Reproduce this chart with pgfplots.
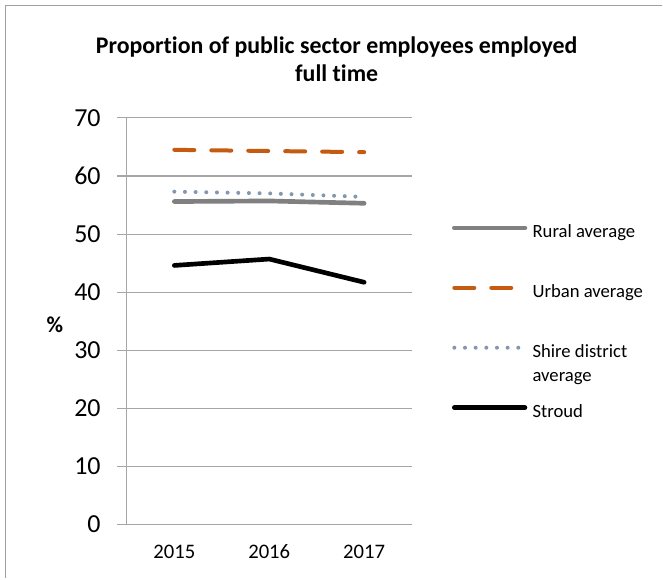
\documentclass[border=0pt]{standalone}
\usepackage{pgfplots}
\pgfplotsset{compat=1.18}
\usepackage{fontspec}
\setmainfont[Ligatures={NoCommon}]{Carlito}
\definecolor{gridgray}{RGB}{166,166,166}
\definecolor{framegray}{RGB}{160,160,160}
\definecolor{urbanorange}{RGB}{197,90,17}
\definecolor{ruralgray}{RGB}{128,128,128}
\definecolor{shireblue}{RGB}{132,151,176}
\begin{document}
\begin{tikzpicture}[x=0.75pt,y=-0.75pt]
\path (0,0) rectangle (663,579);
\draw[framegray, line width=1pt] (5.5,579) -- (5.5,5.5) -- (663,5.5);
\node[align=center, font=\fontsize{17.9}{21}\selectfont\bfseries] at (337,59)
  {Proportion of public sector employees employed\\full time};
\begin{axis}[
  at={(95.25pt,-393.75pt)}, anchor=south west,
  scale only axis, width=213.75pt, height=305.25pt,
  xmin=-0.5, xmax=2.5, ymin=0, ymax=70,
  axis lines=left, axis line style={gridgray, line width=0.8pt, -},
  xtick={0,1,2}, xticklabels={2015,2016,2017},
  x tick style={draw=none},
  extra x ticks={-0.5,0.5,1.5,2.5}, extra x tick labels={},
  extra x tick style={major tick length=7pt, tick style={gridgray, line width=0.8pt}, grid=none},
  ytick={0,10,...,70},
  y tick style={gridgray, line width=0.8pt},
  tick align=outside, major tick length=7.5pt,
  ymajorgrids, grid style={gridgray, line width=0.8pt},
  /pgf/number format/assume math mode=true,
  yticklabel style={font=\fontsize{19.5}{23}\selectfont, inner sep=0pt, xshift=-12pt},
  xticklabel style={font=\fontsize{15.5}{19}\selectfont, inner sep=0pt, yshift=-18pt, anchor=base, text height=11pt},
  ylabel={\%},
  every axis y label/.style={at={(axis description cs:-0.253,0.49)}, anchor=center, rotate=0, font=\fontsize{17}{20}\selectfont\bfseries},
  clip=false,
  legend image code/.code={\draw[#1] (0pt,4.5pt) -- (53pt,4.5pt);},
  legend cell align=left,
  legend style={at={(axis description cs:1.127,0.745)}, anchor=north west, draw=none, fill=none,
    font=\fontsize{14}{18}\selectfont,
    nodes={inner sep=0pt, text height=10pt, text depth=4pt},
    column sep=4pt, row sep=31pt},
]
\addplot[ruralgray, line width=3.5pt, line cap=round] coordinates {(0,55.6) (1,55.7) (2,55.3)};
\addlegendentry{Rural average}
\addplot[urbanorange, line width=3pt, line cap=round, dash pattern=on 15pt off 12.75pt] coordinates {(0,64.5) (1,64.3) (2,64.1)};
\addlegendentry{Urban average}
\addplot[shireblue, line width=3pt, line cap=round, dash pattern=on 0pt off 8pt] coordinates {(0,57.3) (1,57.0) (2,56.4)};
\addlegendentry{\parbox[t]{80pt}{Shire district\\average}}
\addplot[black, line width=3.5pt, line cap=round] coordinates {(0,44.6) (1,45.7) (2,41.7)};
\addlegendentry{Stroud}
\end{axis}
\end{tikzpicture}
\end{document}
